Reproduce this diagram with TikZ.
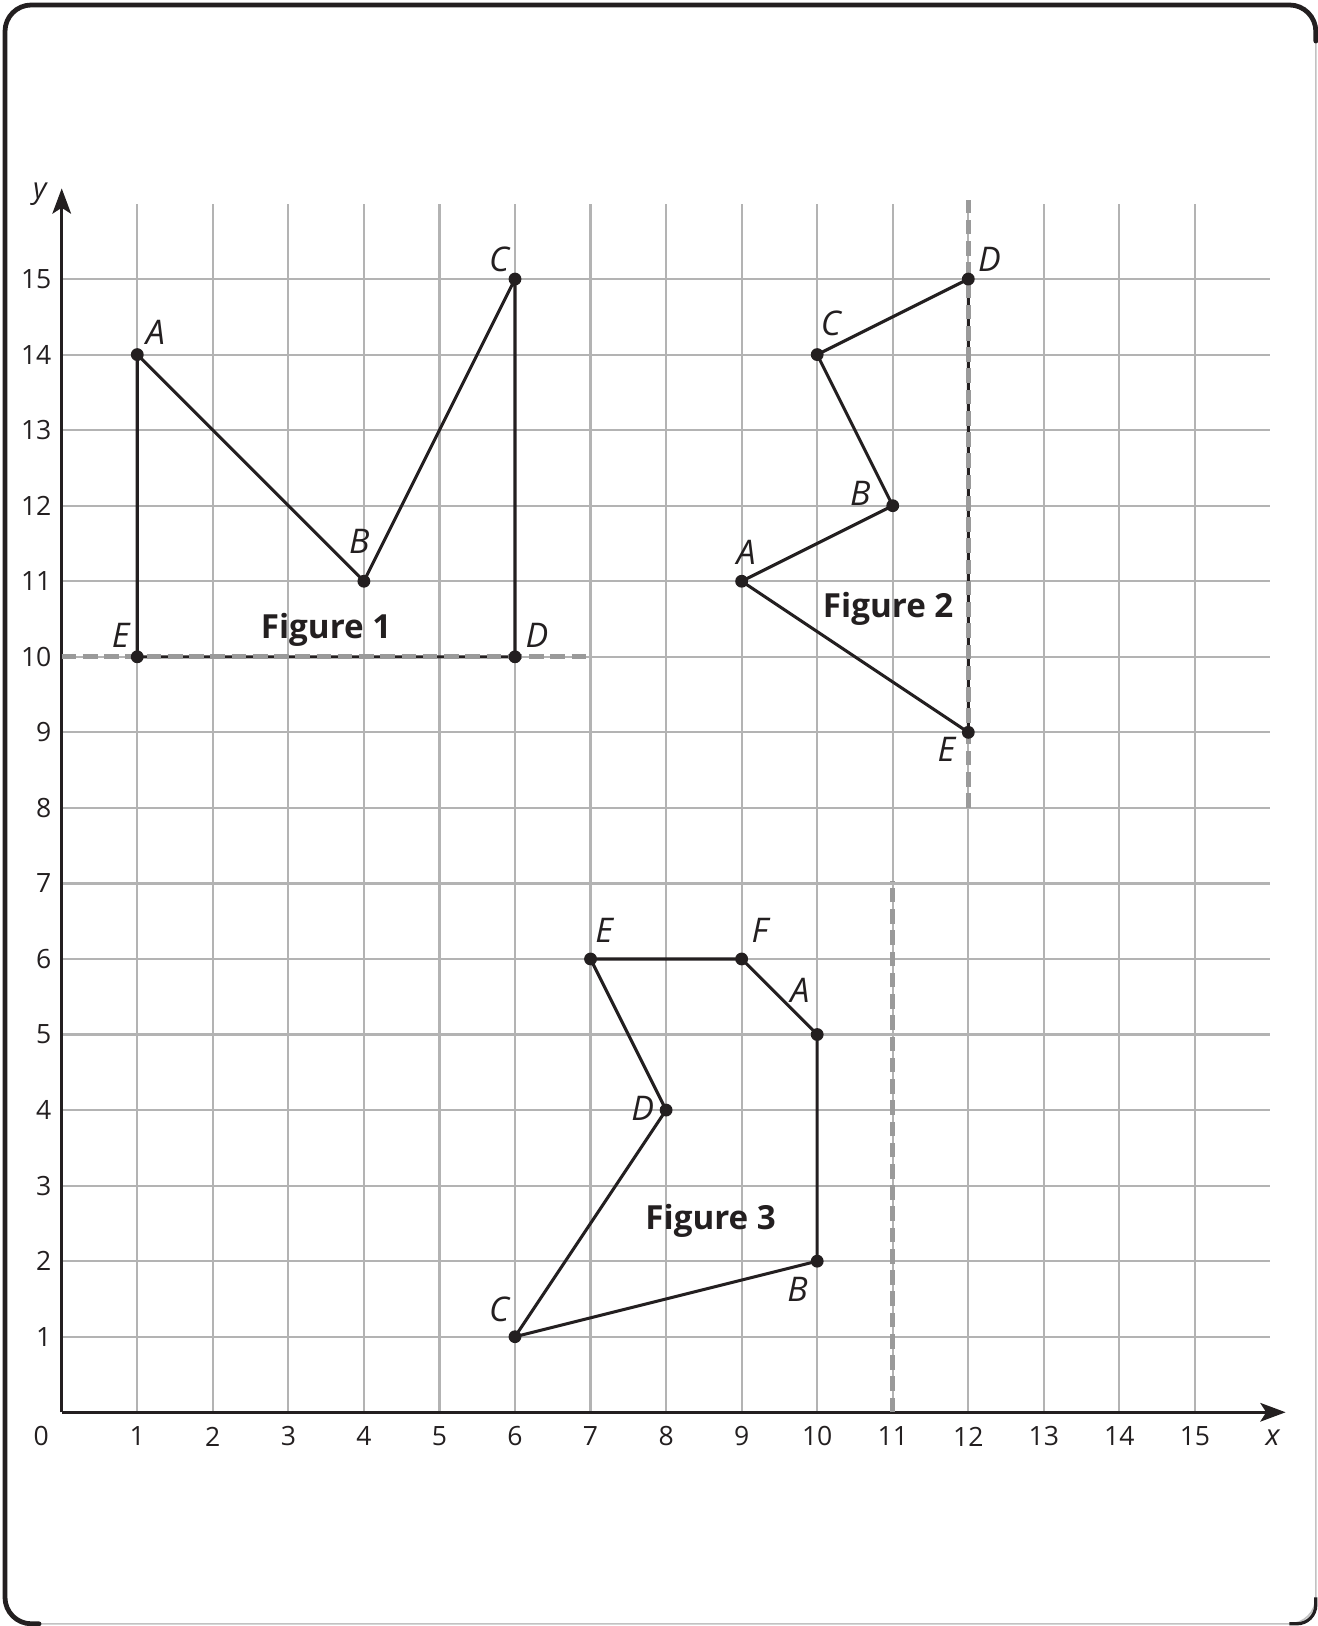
\documentclass[tikz,border=0pt]{standalone}
\usepackage{fontspec}
\setmainfont{Open Sans}
\usetikzlibrary{arrows.meta}
\definecolor{ink}{HTML}{231F20}
\definecolor{gridgray}{HTML}{B3B3B3}
\definecolor{dashgray}{HTML}{9A9A9A}
\tikzset{
  gridline/.style={gridgray, line width=0.8pt},
  axisline/.style={ink, line width=1.2pt, -{Stealth[length=9.5pt, width=7pt, inset=2.2pt]}},
  edge/.style={ink, line width=1.15pt},
  mirror/.style={dashgray, line width=2pt, dash pattern=on 5.5pt off 2.5pt},
  dot/.style={circle, fill=ink, inner sep=0pt, minimum size=0.17cm},
  ptlabel/.style={font=\fontsize{12.8}{14}\selectfont\itshape, text=ink, inner sep=0pt},
  figlabel/.style={font=\fontsize{12.5}{14}\selectfont\bfseries, text=ink, inner sep=0pt},
  ticklabel/.style={font=\fontsize{10}{11}\selectfont, text=ink, inner sep=0pt},
}
\begin{document}
\begin{tikzpicture}
\useasboundingbox (-0.817,-2.829) rectangle (16.629,18.694);
% frame
\draw[gridgray!80, line width=0.6pt, rounded corners=0.35cm] (-0.751,-2.80) rectangle (16.60,18.628);
\draw[ink, line width=1.8pt, rounded corners=0.35cm, line cap=round] (-0.30,-2.80) -- (-0.751,-2.80) -- (-0.751,18.628) -- (16.60,18.628) -- (16.60,18.15);
\draw[ink, line width=1.2pt, rounded corners=0.25cm] (16.60,-2.45) -- (16.60,-2.80) -- (16.25,-2.80);
% grid
\foreach \i in {1,...,15} {
  \draw[gridline] (\i,0) -- (\i,16);
  \draw[gridline] (0,\i) -- (16,\i);
}
% axes
\coordinate (O) at (0,0);
\coordinate (Xend) at (16.2,0);
\coordinate (Yend) at (0,16.2);
\draw[axisline] (O) -- (Xend);
\draw[axisline] (O) -- (Yend);
\node[ticklabel] (l0) at (-0.27,-0.32) {0};
\foreach \i in {1,...,15} {
  \node[ticklabel] (xl\i) at (\i,-0.32) {\i};
  \node[ticklabel, anchor=east] (yl\i) at (-0.13,\i) {\i};
}
\node[ticklabel, font=\fontsize{11}{12}\selectfont\itshape] (xlab) at (16.03,-0.34) {x};
\node[ticklabel, font=\fontsize{11}{12}\selectfont\itshape] (ylab) at (-0.29,16.12) {y};

% Figure 1
\coordinate (A1) at (1,14);
\coordinate (B1) at (4,11);
\coordinate (C1) at (6,15);
\coordinate (D1) at (6,10);
\coordinate (E1) at (1,10);
\coordinate (M1a) at (0,10);
\coordinate (M1b) at (6.95,10);
\draw[edge, line join=round] (E1) -- (A1) -- (B1) -- (C1) -- (D1) -- (E1);
\draw[mirror] (M1a) -- (M1b);
\foreach \p in {A1,B1,C1,D1,E1} \node[dot] at (\p) {};
\node[ptlabel] (tA1) at (1.24,14.3) {A};
\node[ptlabel] (tB1) at (3.94,11.53) {B};
\node[ptlabel] (tC1) at (5.79,15.26) {C};
\node[ptlabel] (tD1) at (6.29,10.28) {D};
\node[ptlabel] (tE1) at (0.78,10.28) {E};
\node[figlabel] (f1) at (3.5,10.36) {Figure 1};

% Figure 2
\coordinate (A2) at (9,11);
\coordinate (B2) at (11,12);
\coordinate (C2) at (10,14);
\coordinate (D2) at (12,15);
\coordinate (E2) at (12,9);
\coordinate (M2a) at (12,8);
\coordinate (M2b) at (12,16.05);
\draw[edge, line join=round] (D2) -- (C2) -- (B2) -- (A2) -- (E2) -- (D2);
\draw[mirror] (M2a) -- (M2b);
\foreach \p in {A2,B2,C2,D2,E2} \node[dot] at (\p) {};
\node[ptlabel] (tA2) at (9.06,11.38) {A};
\node[ptlabel] (tB2) at (10.57,12.16) {B};
\node[ptlabel] (tC2) at (10.18,14.41) {C};
\node[ptlabel] (tD2) at (12.28,15.26) {D};
\node[ptlabel] (tE2) at (11.71,8.78) {E};
\node[figlabel] (f2) at (10.94,10.63) {Figure 2};

% Figure 3
\coordinate (A3) at (10,5);
\coordinate (B3) at (10,2);
\coordinate (C3) at (6,1);
\coordinate (D3) at (8,4);
\coordinate (E3) at (7,6);
\coordinate (F3) at (9,6);
\coordinate (M3a) at (11,0);
\coordinate (M3b) at (11,7.03);
\draw[mirror] (M3a) -- (M3b);
\draw[edge, line join=round] (E3) -- (F3) -- (A3) -- (B3) -- (C3) -- (D3) -- (E3);
\foreach \p in {A3,B3,C3,D3,E3,F3} \node[dot] at (\p) {};
\node[ptlabel] (tA3) at (9.77,5.59) {A};
\node[ptlabel] (tB3) at (9.74,1.63) {B};
\node[ptlabel] (tC3) at (5.79,1.36) {C};
\node[ptlabel] (tD3) at (7.69,4.02) {D};
\node[ptlabel] (tE3) at (7.18,6.38) {E};
\node[ptlabel] (tF3) at (9.24,6.38) {F};
\node[figlabel] (f3) at (8.59,2.53) {Figure 3};
\end{tikzpicture}
\end{document}
